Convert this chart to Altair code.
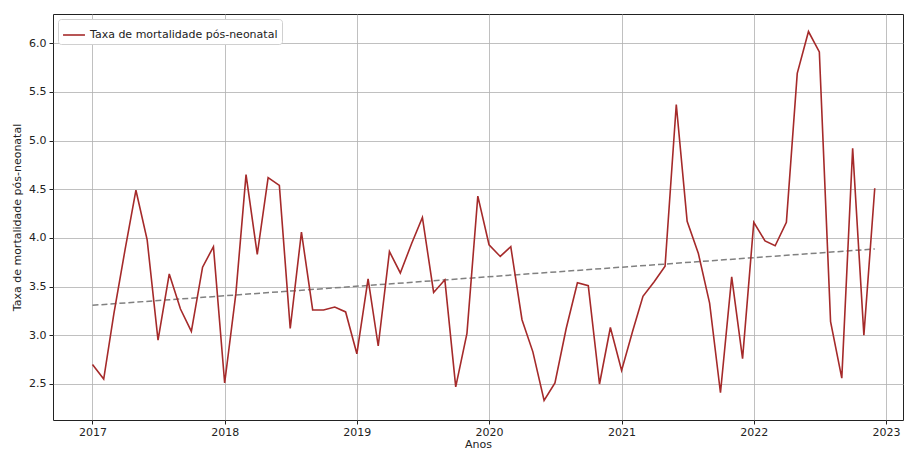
import altair as alt
import pandas as pd

# Monthly post-neonatal mortality rate, Jan 2017 – Dec 2022
years = [2017, 2018, 2019, 2020, 2021, 2022]
months = list(range(1, 13))
rates = [
    2.70, 2.55, 3.22, 3.88, 4.49, 3.98, 2.95, 3.63, 3.27, 3.04, 3.70, 3.91,
    2.51, 3.43, 4.65, 3.83, 4.62, 4.54, 3.07, 4.06, 3.26, 3.26, 3.29, 3.24,
    2.81, 3.58, 2.89, 3.86, 3.64, 3.94, 4.21, 3.44, 3.57, 2.47, 3.02, 4.43,
    3.93, 3.81, 3.91, 3.16, 2.83, 2.33, 2.51, 3.07, 3.54, 3.51, 2.50, 3.08,
    2.64, 3.05, 3.40, 3.55, 3.71, 5.37, 4.17, 3.84, 3.33, 2.41, 3.60, 2.76,
    4.16, 3.97, 3.92, 4.16, 5.69, 6.12, 5.91, 3.14, 2.56, 4.92, 3.00, 4.51,
]
series_name = "Taxa de mortalidade pós-neonatal"
year_ticks = [2017, 2018, 2019, 2020, 2021, 2022, 2023]
y_ticks = [2.5, 3.0, 3.5, 4.0, 4.5, 5.0, 5.5, 6.0]

dates = [f"{y}-{m:02d}-01" for y in years for m in months]
df = pd.DataFrame({"data": dates, "taxa": rates, "serie": series_name})

x_scale = alt.Scale(
    type="utc",
    domain=[
        alt.DateTime(year=2016, month=9, date=14, utc=True),
        alt.DateTime(year=2023, month=2, date=17, utc=True),
    ],
    nice=False,
)
y_scale = alt.Scale(domain=[2.13, 6.30], nice=False, zero=False)

x_axis = alt.Axis(
    title="Anos",
    values=[alt.DateTime(year=y, month=1, date=1, utc=True) for y in year_ticks],
    format="%Y",
    grid=True,
)
y_axis = alt.Axis(title="Taxa de mortalidade pós-neonatal", values=y_ticks, format=".1f", grid=True)

base = alt.Chart(df)

line = base.mark_line(strokeWidth=1.6).encode(
    x=alt.X("data:T", scale=x_scale, axis=x_axis),
    y=alt.Y("taxa:Q", scale=y_scale, axis=y_axis),
    color=alt.Color(
        "serie:N",
        scale=alt.Scale(domain=[series_name], range=["#a52a2a"]),
        legend=alt.Legend(
            title=None,
            orient="none",
            legendX=5,
            legendY=5,
            symbolType="stroke",
            symbolSize=480,
            symbolStrokeWidth=1.6,
            labelFontSize=11,
            labelColor="#222222",
            labelFont="DejaVu Sans",
            labelLimit=0,
            fillColor="white",
            strokeColor="#d0d0d0",
            cornerRadius=3,
            padding=4,
            offset=0,
        ),
    ),
)

# Linear trend fitted over the monthly series
trend = base.transform_regression("data", "taxa").mark_line(
    color="#808080", strokeDash=[6, 3], strokeWidth=1.5
).encode(
    x=alt.X("data:T", scale=x_scale, axis=x_axis),
    y=alt.Y("taxa:Q", scale=y_scale, axis=y_axis),
)

chart = (
    alt.layer(trend, line)
    .properties(
        width=850,
        height=406,
        padding={"left": 53, "top": 14, "right": 1, "bottom": 31},
        autosize=alt.AutoSizeParams(type="none"),
    )
    .configure_view(stroke="#222222", strokeWidth=1)
    .configure_axis(
        labelFont="DejaVu Sans",
        titleFont="DejaVu Sans",
        labelFontSize=11,
        titleFontSize=11,
        titleFontWeight="normal",
        labelColor="#222222",
        titleColor="#222222",
        gridColor="#b0b0b0",
        gridOpacity=0.8,
        gridWidth=1,
        domain=False,
        tickColor="#222222",
        tickSize=4,
    )
    .configure_axisX(labelPadding=2, titlePadding=1)
    .configure_axisY(labelPadding=3, titlePadding=6)
)

chart.save("out.html", embed_options={"renderer": "svg", "actions": False})
